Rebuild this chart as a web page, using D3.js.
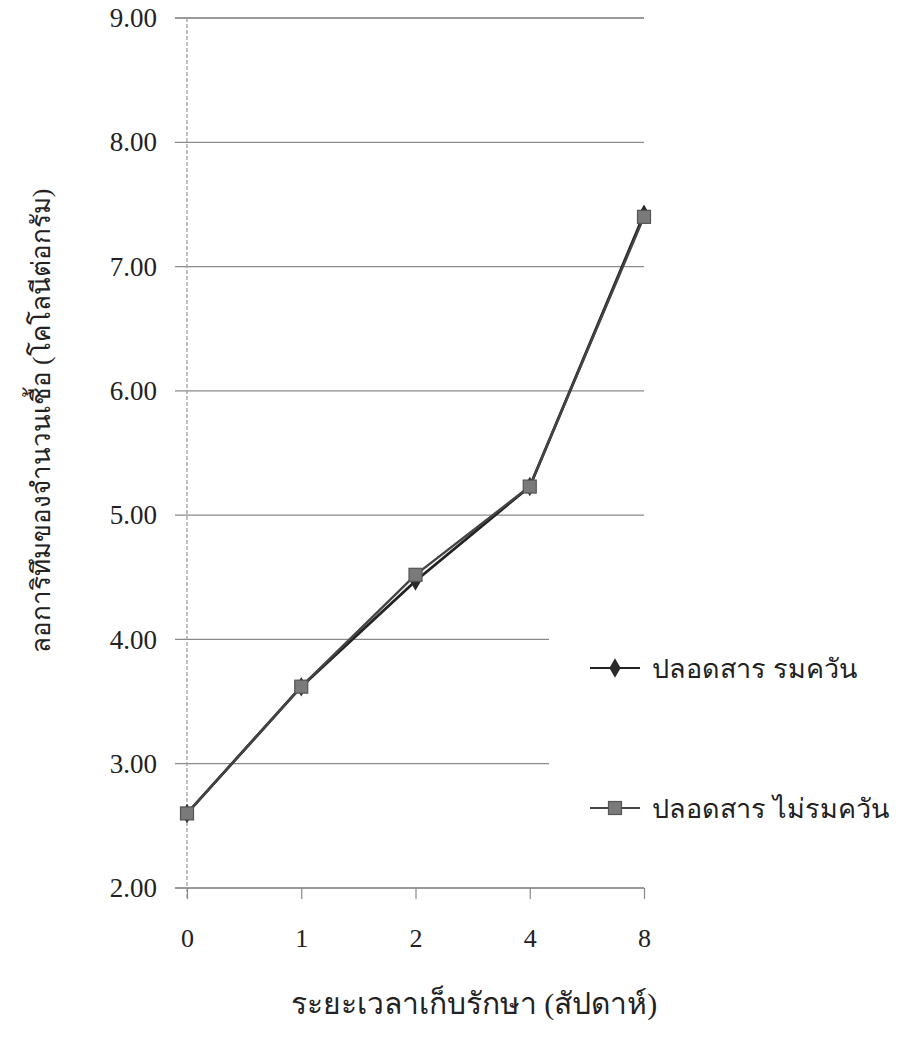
<!DOCTYPE html>
<html>
<head>
<meta charset="utf-8">
<script src="https://cdn.jsdelivr.net/npm/d3@7"></script>
<style>
  html, body { margin: 0; padding: 0; background: #fff; }
  svg { display: block; }
  text { font-family: "Liberation Serif", "DejaVu Serif", serif; fill: #222; }
</style>
</head>
<body>
<svg id="chart" width="907" height="1051"></svg>
<script>
// Storage time in weeks (category axis)
const weeks = ["0", "1", "2", "4", "8"];
// Log count of microorganisms (colony per gram)
const smokedValues = [2.60, 3.62, 4.47, 5.23, 7.42];
const unsmokedValues = [2.60, 3.62, 4.52, 5.23, 7.40];
const seriesNames = ["ปลอดสาร รมควัน", "ปลอดสาร ไม่รมควัน"];
const yTicks = [2, 3, 4, 5, 6, 7, 8, 9];
const xTitle = "ระยะเวลาเก็บรักษา (สัปดาห์)";
const yTitle = "ลอการิทึมของจำนวนเชื้อ (โคโลนีต่อกรัม)";

const svg = d3.select("#chart");
const plotLeft = 187, plotRight = 644, plotTop = 18, plotBottom = 888;

const x = d3.scalePoint().domain(weeks).range([plotLeft, plotRight]);
const y = d3.scaleLinear().domain([2, 9]).range([plotBottom, plotTop]);

// Legend region hides the grid behind it
const legendBox = { x: 549, y: 560, w: 358, h: 310 };

// Horizontal gridlines
const grid = svg.append("g");
yTicks.forEach(v => {
  const yy = y(v);
  const inLegend = yy > legendBox.y && yy < legendBox.y + legendBox.h;
  grid.append("line")
    .attr("x1", 175).attr("x2", inLegend ? legendBox.x : plotRight)
    .attr("y1", yy).attr("y2", yy)
    .attr("stroke", v === 9 || v === 2 ? "#777" : "#8a8a8a")
    .attr("stroke-width", 1.3);
});

// Vertical value axis line (light, dashed)
svg.append("line")
  .attr("x1", plotLeft).attr("x2", plotLeft)
  .attr("y1", plotTop).attr("y2", plotBottom + 12)
  .attr("stroke", "#999").attr("stroke-width", 1.2)
  .attr("stroke-dasharray", "4,2");

// Y tick labels
const yAxis = d3.axisLeft(y).tickValues(yTicks).tickFormat(d3.format(".2f")).tickSize(0).tickPadding(18);
const gy = svg.append("g").attr("transform", `translate(${175},0)`).call(yAxis);
gy.select(".domain").remove();
gy.selectAll("text")
  .style("font-family", '"Liberation Serif", serif')
  .style("font-size", "27px").attr("fill", "#222");

// X axis with category ticks
const xAxis = d3.axisBottom(x).tickSize(11).tickPadding(30);
const gx = svg.append("g").attr("transform", `translate(0,${plotBottom})`).call(xAxis);
gx.select(".domain").remove();
gx.selectAll(".tick line").attr("stroke", "#888").attr("stroke-width", 1.2);
gx.selectAll("text")
  .style("font-family", '"Liberation Serif", serif')
  .style("font-size", "26px").attr("fill", "#222");

// Series lines and markers
const line = d3.line().x((d, i) => x(weeks[i])).y(d => y(d));

svg.append("path").datum(smokedValues)
  .attr("d", line).attr("fill", "none")
  .attr("stroke", "#222").attr("stroke-width", 2.8);
svg.append("path").datum(unsmokedValues)
  .attr("d", line).attr("fill", "none")
  .attr("stroke", "#444").attr("stroke-width", 2.4);

const diamond = d3.symbol().type(d3.symbolDiamond).size(110);
svg.append("g").selectAll("path").data(smokedValues).join("path")
  .attr("d", diamond)
  .attr("transform", (d, i) => `translate(${x(weeks[i])},${y(d)})`)
  .attr("fill", "#2a2a2a");

const sq = 13;
svg.append("g").selectAll("rect").data(unsmokedValues).join("rect")
  .attr("x", (d, i) => x(weeks[i]) - sq / 2)
  .attr("y", d => y(d) - sq / 2)
  .attr("width", sq).attr("height", sq)
  .attr("fill", "#7a7a7a").attr("stroke", "#555").attr("stroke-width", 1.2);

// Legend
const legend = svg.append("g");
const legendY = [668, 808];
legendY.forEach((ly, i) => {
  legend.append("line").attr("x1", 590).attr("x2", 640).attr("y1", ly).attr("y2", ly)
    .attr("stroke", i === 0 ? "#222" : "#444").attr("stroke-width", 2.2);
  if (i === 0) {
    legend.append("path").attr("d", diamond).attr("transform", `translate(615,${ly})`).attr("fill", "#2a2a2a");
  } else {
    legend.append("rect").attr("x", 615 - sq / 2).attr("y", ly - sq / 2).attr("width", sq).attr("height", sq)
      .attr("fill", "#7a7a7a").attr("stroke", "#555").attr("stroke-width", 1.2);
  }
  legend.append("text").attr("x", 652).attr("y", ly + 10)
    .style("font-size", "27px").text(seriesNames[i]);
});

// Axis titles
svg.append("text").attr("x", 474).attr("y", 1014).attr("text-anchor", "middle")
  .style("font-size", "30px").text(xTitle);
svg.append("text")
  .attr("transform", "translate(50,421) rotate(-90)")
  .attr("text-anchor", "middle")
  .style("font-size", "26px").text(yTitle);
</script>
</body>
</html>
